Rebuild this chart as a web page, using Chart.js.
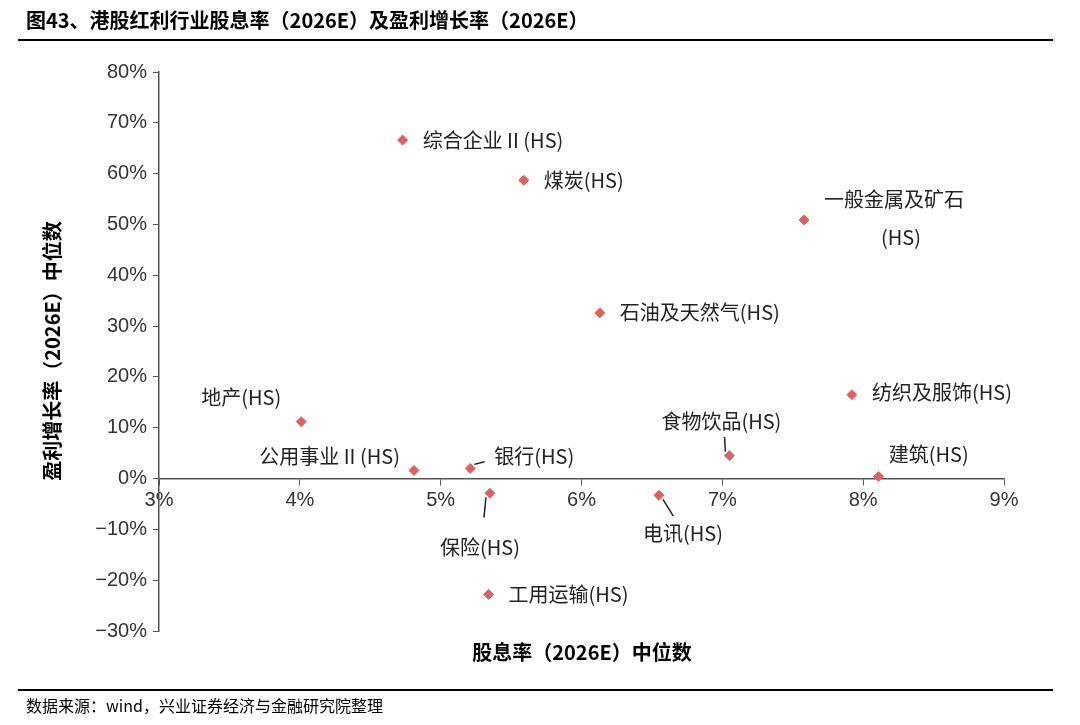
<!DOCTYPE html>
<html><head><meta charset="utf-8">
<script src="https://cdn.jsdelivr.net/npm/chart.js@4.4.1/dist/chart.umd.min.js"></script>
<style>body{margin:0;background:#fff}#wrap{width:1080px;height:725px;position:relative}</style>
</head><body><div id="wrap"><canvas id="c" width="1080" height="725"></canvas></div>
<script>
const names = ['综合企业 II (HS)','煤炭(HS)','一般金属及矿石','石油及天然气(HS)','纺织及服饰(HS)','地产(HS)','食物饮品(HS)','公用事业 II (HS)','银行(HS)','建筑(HS)','保险(HS)','电讯(HS)','工用运输(HS)'];
const dividendYield = [4.73, 5.59, 7.58, 6.13, 7.92, 4.01, 7.05, 4.81, 5.21, 8.11, 5.35, 6.55, 5.34];
const profitGrowth = [66.6, 58.7, 50.9, 32.6, 16.5, 11.2, 4.5, 1.6, 2.0, 0.4, -2.9, -3.3, -22.8];
// label placement: [dx, dy, align, leader]
const labelPos = [
  [20,0,'left',0],[20,0,'left',0],[20,-20,'left',0],[20,0,'left',0],[20,-2,'left',0],[-20,-24,'right',0],
  [-8,-34,'center',1],[-14,-14,'right',0],[24,-12,'left',1],[10,-22,'left',0],[-10,54,'center',1],[24,38,'center',1],[20,0,'left',0]
];

const labelPlugin = {
  id: 'labels',
  afterDatasetsDraw(chart) {
    const ctx = chart.ctx, xs = chart.scales.x, ys = chart.scales.y;
    ctx.save();
    ctx.font = '20px "Noto Sans CJK SC", sans-serif';
    ctx.fillStyle = '#222'; ctx.strokeStyle = '#222'; ctx.lineWidth = 1.5;
    ctx.textBaseline = 'middle';
    names.forEach((n, i) => {
      const px = xs.getPixelForValue(dividendYield[i]), py = ys.getPixelForValue(profitGrowth[i]);
      const [dx, dy, al, lead] = labelPos[i];
      ctx.textAlign = al;
      ctx.fillText(n, px + dx, py + dy);
      if (lead) {
        ctx.beginPath();
        ctx.moveTo(px + Math.sign(dx) * 4, py + Math.sign(dy) * 4);
        ctx.lineTo(px + dx * 0.6, py + dy * (i === 10 ? 0.45 : 0.55));
        ctx.stroke();
      }
      if (i === 2) { ctx.textAlign = 'center'; ctx.fillText('(HS)', px + 97, py + 18); }
    });
    // frame texts
    ctx.textAlign = 'left';
    ctx.font = 'bold 20px "Noto Sans CJK SC", sans-serif';
    ctx.fillStyle = '#000';
    ctx.fillText('图43、港股红利行业股息率（2026E）及盈利增长率（2026E）', 26, 20);
    ctx.fillRect(18, 39, 1035, 2);
    ctx.fillRect(18, 689, 1035, 2);
    ctx.font = '16px "Noto Sans CJK SC", sans-serif';
    ctx.fillText('数据来源：wind，兴业证券经济与金融研究院整理', 26, 706);
    ctx.font = 'bold 20px "Noto Sans CJK SC", sans-serif';
    ctx.textAlign = 'center';
    ctx.fillText('股息率（2026E）中位数', 582, 652);
    ctx.translate(52, 351); ctx.rotate(-Math.PI / 2);
    ctx.fillText('盈利增长率（2026E）中位数', 0, 0);
    ctx.restore();
  }
};

new Chart(document.getElementById('c'), {
  type: 'scatter',
  data: { datasets: [{
    data: dividendYield.map((x, i) => ({ x, y: profitGrowth[i] })),
    pointStyle: 'rectRot', pointRadius: 5, backgroundColor: '#dc6262', borderColor: '#dc6262'
  }]},
  options: {
    responsive: false, animation: false,
    layout: { padding: { top: 72, right: 76, bottom: 94, left: 0 } },
    plugins: { legend: { display: false }, tooltip: { enabled: false } },
    scales: {
      x: {
        position: { y: 0 }, min: 3, max: 9,
        ticks: { stepSize: 1, color: '#333', font: { size: 20, family: 'Liberation Sans' }, maxRotation: 0, callback: v => v + '%', padding: 4 },
        grid: { drawOnChartArea: false, tickLength: 6, color: '#555' },
        border: { color: '#555', width: 1.5 }
      },
      y: {
        min: -30, max: 80,
        afterFit: s => { s.width = 159; },
        ticks: { stepSize: 10, color: '#333', font: { size: 20, family: 'Liberation Sans' }, callback: v => (v < 0 ? '−' + (-v) : v) + '%', padding: 6 },
        grid: { drawOnChartArea: false, tickLength: 6, color: '#555' },
        border: { color: '#555', width: 1.5 }
      }
    }
  },
  plugins: [labelPlugin]
});
</script></body></html>
